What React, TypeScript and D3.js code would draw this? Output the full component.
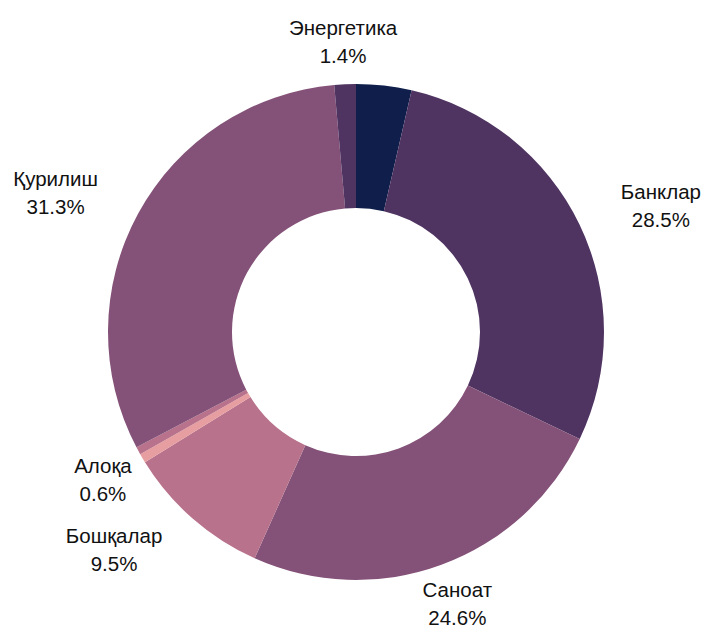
import { useMemo } from "react";
import { pie, arc } from "d3";

const categories = ["", "Банклар", "Саноат", "Бошқалар", "Алоқа", "", "Қурилиш", "Энергетика"];
const values = [3.6, 28.5, 24.6, 9.5, 0.6, 0.5, 31.3, 1.4];
const valueLabels = ["", "28.5%", "24.6%", "9.5%", "0.6%", "", "31.3%", "1.4%"];
const colors = ["#0f1e4a", "#4f3462", "#845278", "#b8728b", "#e79ea1", "#b8728b", "#845278", "#4f3462"];

// how each label block sits against its anchor point
const labelAlign: Record<string, "start" | "middle" | "end"> = {
  Банклар: "start",
  Саноат: "middle",
  Бошқалар: "end",
  Алоқа: "middle",
  Қурилиш: "end",
  Энергетика: "middle",
};

const WIDTH = 705;
const HEIGHT = 630;
const CX = 356;
const CY = 332;
const OUTER = 248;
const INNER = 124;
const LABEL_RX = 294;
const LABEL_RY = 290;
const FONT = "20.5px 'Liberation Sans', Arial, sans-serif";
const LINE_GAP = 28;

let ctx: CanvasRenderingContext2D | null = null;
function textWidth(s: string) {
  if (!ctx) ctx = document.createElement("canvas").getContext("2d");
  if (!ctx) return s.length * 10;
  ctx.font = FONT;
  return ctx.measureText(s).width;
}

export default function App() {
  const slices = useMemo(() => {
    const gen = pie<number>()
      .sort(null)
      .value((d) => d)
      .startAngle(0)
      .endAngle(Math.PI * 2);
    return gen(values);
  }, []);

  const arcGen = arc<any>().innerRadius(INNER).outerRadius(OUTER);

  return (
    <svg
      width={WIDTH}
      height={HEIGHT}
      style={{ position: "absolute", left: 0, top: 0, background: "#fff" }}
    >
      <g transform={`translate(${CX},${CY})`}>
        {slices.map((s, i) => (
          <path key={i} d={arcGen(s) ?? ""} fill={colors[i]} />
        ))}
        {slices.map((s, i) => {
          const name = categories[i];
          if (!name) return null;
          const mid = (s.startAngle + s.endAngle) / 2;
          const ax = Math.sin(mid) * LABEL_RX;
          const ay = -Math.cos(mid) * LABEL_RY;
          const w = Math.max(textWidth(name), textWidth(valueLabels[i]));
          const align = labelAlign[name] ?? "middle";
          const bx = align === "start" ? ax + w / 2 : align === "end" ? ax - w / 2 : ax;
          return (
            <text
              key={"l" + i}
              x={bx}
              y={ay - 7}
              textAnchor="middle"
              style={{ font: FONT }}
              fill="#111"
            >
              <tspan x={bx}>{name}</tspan>
              <tspan x={bx} dy={LINE_GAP}>
                {valueLabels[i]}
              </tspan>
            </text>
          );
        })}
      </g>
    </svg>
  );
}
